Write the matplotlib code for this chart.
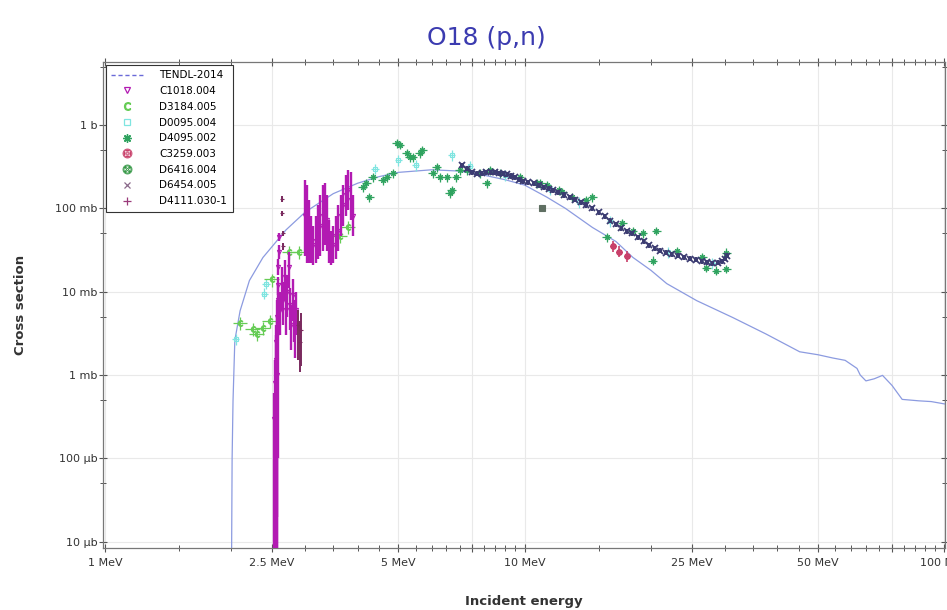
import numpy as np
import matplotlib
matplotlib.use("Agg")
import matplotlib.pyplot as plt
from matplotlib.lines import Line2D

# ---------------- data (energies in MeV, cross sections in barn) ----------------
tendl_E = [2.00, 2.01, 2.02, 2.04, 2.10, 2.21, 2.38, 2.54, 2.7, 3.0, 3.5, 4.0, 4.5, 5.0,
           6.0, 7.0, 8.0, 9.0, 10.0, 11.3, 12.5, 14.5, 16.5, 18.1, 20.0, 21.8, 25.7,
           31.3, 37.6, 45.2, 50.0, 54.2, 58.0, 61.9, 63.0, 65.0, 68.0, 71.2, 75.0,
           79.3, 86.9, 93.0, 100.0]
tendl_S = [1e-6, 1e-4, 4.9e-4, 2.6e-3, 5.9e-3, 0.0136, 0.0257, 0.038, 0.055, 0.09,
           0.15, 0.2, 0.24, 0.27, 0.29, 0.28, 0.25, 0.22, 0.19, 0.136, 0.1, 0.059,
           0.04, 0.0258, 0.018, 0.0125, 7.8e-3, 4.9e-3, 3.1e-3, 1.9e-3, 1.75e-3,
           1.6e-3, 1.5e-3, 1.2e-3, 1.0e-3, 8.5e-4, 9.0e-4, 9.9e-4, 7.5e-4, 5.1e-4,
           4.9e-4, 4.8e-4, 4.5e-4]

# C1018.004 : resonance region, value with lower / upper bar ends
c1018_E = [2.535, 2.54, 2.545, 2.55, 2.555, 2.56, 2.565, 2.57, 2.575, 2.58,
           2.585, 2.59, 2.595, 2.60,
           2.62, 2.64, 2.66, 2.68, 2.70, 2.72, 2.74, 2.76, 2.78, 2.80, 2.82, 2.84, 2.86,
           3.00, 3.03, 3.06, 3.10, 3.14, 3.18, 3.22, 3.26, 3.30, 3.34, 3.38, 3.42,
           3.46, 3.50, 3.55, 3.60, 3.65, 3.70, 3.75, 3.80, 3.85, 3.90]
c1018_S = [3e-4, 8e-4, 2e-4, 1.5e-3, 5e-4, 2.5e-3, 1e-3, 3e-3, 5e-3, 8e-3,
           0.012, 0.02, 0.03, 0.045,
           0.006, 0.012, 0.008, 0.015, 0.006, 0.010, 0.020, 0.007, 0.004, 0.009,
           0.005, 0.0035, 0.006,
           0.082, 0.062, 0.054, 0.041, 0.036, 0.041, 0.047, 0.062, 0.082, 0.088,
           0.072, 0.041, 0.033, 0.036, 0.047, 0.054, 0.082, 0.109, 0.143, 0.165,
           0.125, 0.082]
c1018_lo = [1e-6, 1e-6, 1e-6, 1e-6, 1e-6, 1e-6, 1e-6, 5e-6, 2e-5, 1e-4,
            0.009, 0.016, 0.025, 0.040,
            0.003, 0.006, 0.004, 0.008, 0.003, 0.005, 0.011, 0.0035, 0.002, 0.0045,
            0.0025, 0.0016, 0.003,
            0.027, 0.022, 0.022, 0.022, 0.021, 0.022, 0.025, 0.027, 0.031, 0.036,
            0.031, 0.022, 0.021, 0.022, 0.025, 0.031, 0.047, 0.062, 0.082, 0.095,
            0.072, 0.047]
c1018_hi = [6e-4, 1.5e-3, 4e-4, 3e-3, 1e-3, 4e-3, 2e-3, 5e-3, 8e-3, 0.012,
            0.015, 0.025, 0.036, 0.050,
            0.010, 0.020, 0.013, 0.024, 0.010, 0.016, 0.030, 0.011, 0.007, 0.014,
            0.008, 0.006, 0.010,
            0.217, 0.189, 0.125, 0.082, 0.062, 0.082, 0.109, 0.143, 0.189, 0.200,
            0.143, 0.072, 0.054, 0.062, 0.082, 0.109, 0.143, 0.189, 0.250, 0.287,
            0.270, 0.143]

d3184_E = [2.10, 2.25, 2.30, 2.38, 2.47, 2.50, 2.75, 2.90, 3.63, 3.80]
d3184_S = [4.2e-3, 3.6e-3, 3.1e-3, 3.7e-3, 4.5e-3, 0.014, 0.030, 0.030, 0.047, 0.060]

d0095_E = [2.05, 2.40, 2.42, 4.4, 5.0, 5.5, 6.7, 7.4, 9.0, 11.5, 13.5, 16.0, 22.0, 28.0]
d0095_S = [2.7e-3, 0.0095, 0.0125, 0.30, 0.38, 0.33, 0.435, 0.32, 0.25, 0.17, 0.12,
           0.07, 0.030, 0.022]

d4095_E = [4.11, 4.20, 4.27, 4.35, 4.59, 4.69, 4.85, 4.96, 5.04, 5.24, 5.33, 5.41,
           5.62, 5.71, 6.04, 6.17, 6.28, 6.52, 6.63, 6.70, 6.88, 7.00, 7.27, 7.81,
           8.12, 8.26, 8.72, 9.73, 10.7, 10.9, 11.3, 12.1, 12.3, 13.0, 14.0, 14.5,
           15.7, 17.1, 18.1, 19.1, 20.2, 20.6, 23.0, 26.5, 27.1, 28.6, 30.2, 30.2]
d4095_S = [0.179, 0.200, 0.136, 0.236, 0.217, 0.236, 0.264, 0.607, 0.580, 0.460,
           0.410, 0.410, 0.460, 0.500, 0.264, 0.312, 0.236, 0.236, 0.152, 0.165,
           0.236, 0.287, 0.287, 0.264, 0.200, 0.287, 0.264, 0.236, 0.200, 0.200,
           0.189, 0.165, 0.156, 0.136, 0.125, 0.136, 0.0448, 0.066, 0.054, 0.050,
           0.0236, 0.054, 0.031, 0.0258, 0.0195, 0.0179, 0.0189, 0.0295]

c3259_E = [16.2, 16.8, 17.5]
c3259_S = [0.035, 0.030, 0.027]
c3259_lo = [0.030, 0.026, 0.023]
c3259_hi = [0.040, 0.035, 0.031]

d6416_E = [11.0]
d6416_S = [0.100]

d6454_E = [7.1, 7.3, 7.5, 7.7, 7.9, 8.1, 8.3, 8.5, 8.7, 8.9, 9.1, 9.3, 9.5, 9.7, 9.9,
           10.2, 10.5, 10.8, 11.1, 11.4, 11.7, 12.0, 12.4, 12.8, 13.2, 13.6, 14.0,
           14.5, 15.0, 15.5, 16.0, 16.5, 17.0, 17.5, 18.0, 18.6, 19.2, 19.8, 20.4,
           21.0, 21.7, 22.4, 23.2, 24.0, 24.8, 25.6, 26.4, 27.2, 28.0, 28.8, 29.5,
           30.0, 30.3]
d6454_S = [0.33, 0.30, 0.27, 0.26, 0.265, 0.27, 0.27, 0.27, 0.265, 0.26, 0.255,
           0.245, 0.235, 0.22, 0.21, 0.205, 0.20, 0.19, 0.18, 0.172, 0.165, 0.155,
           0.145, 0.135, 0.127, 0.118, 0.11, 0.10, 0.09, 0.08, 0.071, 0.064, 0.058,
           0.053, 0.050, 0.045, 0.040, 0.036, 0.033, 0.031, 0.0295, 0.028, 0.027,
           0.026, 0.025, 0.0242, 0.0232, 0.0225, 0.022, 0.0222, 0.0232, 0.025, 0.027]

d4111_E = [2.64, 2.64, 2.65, 2.66, 2.88, 2.91, 2.93]
d4111_S = [0.13, 0.087, 0.05, 0.035, 0.004, 0.0025, 0.0035]
d4111_lo = [0.12, 0.080, 0.046, 0.032, 0.0015, 0.0011, 0.0013]
d4111_hi = [0.14, 0.094, 0.054, 0.038, 0.006, 0.0045, 0.0055]

x_major = [1, 2.5, 5, 7.5, 10, 25, 50, 75, 100]
x_major_labels = ["1 MeV", "2.5 MeV", "5 MeV", "", "10 MeV", "25 MeV", "50 MeV", "", "100 MeV"]
x_minor = [1.5, 2, 3, 3.5, 4, 4.5, 5.5, 6, 6.5, 7, 8, 8.5, 9, 9.5,
           15, 20, 30, 35, 40, 45, 55, 60, 65, 70, 80, 85, 90, 95]
y_major = [1e-5, 1e-4, 1e-3, 1e-2, 1e-1, 1]
y_major_labels = ["10 \u00b5b", "100 \u00b5b", "1 mb", "10 mb", "100 mb", "1 b"]
y_minor = [5e-5, 5e-4, 5e-3, 5e-2, 5e-1, 5]

# ---------------- styling ----------------
col_tendl = "#8c9be0"
col_c1018 = "#b21ab2"
col_d3184 = "#66cc55"
col_d0095 = "#7fe5e0"
col_d4095 = "#2fa35f"
col_c3259 = "#c8406a"
col_d6416 = "#5f6f62"
col_d6454 = "#3c3c72"
col_d4111 = "#7a2a5e"

fig = plt.figure(figsize=(9.47, 6.10), dpi=100)
ax = fig.add_axes([103 / 947, 1 - 548 / 610, (945 - 103) / 947, (548 - 62) / 610])
ax.set_xscale("log")
ax.set_yscale("log")

ax.grid(True, which="major", color="#e9e9e9", lw=0.8, zorder=0)

ax.plot(tendl_E, tendl_S, color=col_tendl, lw=0.9, zorder=2)

def eb(E, S, color, marker, ms=3.5, yrel=0.12, xrel=0.0, lo=None, hi=None, z=3, lw=0.9,
       mfc="none", mew=0.8):
    E = np.asarray(E, float)
    S = np.asarray(S, float)
    if lo is not None:
        yerr = [S - np.asarray(lo), np.asarray(hi) - S]
    else:
        yerr = S * yrel
    xerr = E * xrel if xrel else None
    ax.errorbar(E, S, yerr=yerr, xerr=xerr, fmt="none", ecolor=color,
                elinewidth=lw, capsize=0, zorder=z)
    ax.plot(E, S, linestyle="none", marker=marker, ms=ms, mfc=mfc, mec=color,
            mew=mew, zorder=z + 0.1)

eb(d0095_E, d0095_S, col_d0095, "s", ms=3, yrel=0.15, xrel=0.02, z=3)
eb(d3184_E, d3184_S, col_d3184, r"$\mathrm{C}$", ms=4, yrel=0.18, xrel=0.04, z=3)
eb(d4095_E, d4095_S, col_d4095, (8, 2, 0), ms=4.5, yrel=0.12, xrel=0.025, z=4)
eb(c1018_E, c1018_S, col_c1018, "v", ms=3, lo=c1018_lo, hi=c1018_hi, z=5, lw=1.7)
eb(c3259_E, c3259_S, col_c3259, r"$\oplus$", ms=4, lo=c3259_lo, hi=c3259_hi, z=5, lw=1.2)
eb(d6416_E, d6416_S, col_d6416, "s", ms=5, yrel=0.06, z=5, mfc=col_d6416)
eb(d6454_E, d6454_S, col_d6454, "x", ms=4.5, yrel=0.07, xrel=0.01, z=6, lw=1.4, mew=1.3)
eb(d4111_E, d4111_S, col_d4111, "+", ms=3.5, lo=d4111_lo, hi=d4111_hi, z=6, lw=1.4)

ax.set_xticks(x_major)
ax.set_xticklabels(x_major_labels)
ax.set_xticks(x_minor, minor=True)
ax.set_xticklabels([], minor=True)
ax.set_yticks(y_major)
ax.set_yticklabels(y_major_labels)
ax.set_yticks(y_minor, minor=True)
ax.set_yticklabels([], minor=True)

# limits after ticks so that tick positions do not expand the view
ax.set_xlim(0.99, 100.3)
ax.set_ylim(8.4e-6, 5.7)

ax.tick_params(which="both", direction="inout", top=True, right=True, colors="#555555",
               labelcolor="#333333", labelsize=8)
ax.tick_params(which="major", length=6, width=0.8)
ax.tick_params(which="minor", length=4, width=0.7)
ax.tick_params(axis="x", pad=4)
ax.tick_params(axis="y", pad=1)

for sp in ax.spines.values():
    sp.set_color("#777777")
    sp.set_linewidth(0.9)

ax.set_xlabel("Incident energy", fontsize=9.5, fontweight="bold", color="#333333", labelpad=20)
ax.set_ylabel("Cross section", fontsize=9.5, fontweight="bold", color="#333333", labelpad=20)

fig.text(0.514, 0.938, "O18 (p,n)", ha="center", va="center", fontsize=18,
         color="#3b3bb0")

handles = [
    Line2D([], [], color="#6a6ad8", lw=1.0, ls=(0, (3, 2))),
    Line2D([], [], ls="none", marker="v", ms=4.5, mfc="none", mec=col_c1018, mew=0.9),
    Line2D([], [], ls="none", marker=r"$\mathrm{C}$", ms=5.5, mfc="none", mec=col_d3184, mew=0.9),
    Line2D([], [], ls="none", marker="s", ms=4.5, mfc="none", mec=col_d0095, mew=0.9),
    Line2D([], [], ls="none", marker=(8, 2, 0), ms=6, mfc="none", mec=col_d4095, mew=1.0),
    Line2D([], [], ls="none", marker=r"$\oplus$", ms=6.5, mfc="none", mec=col_c3259, mew=0.6),
    Line2D([], [], ls="none", marker=r"$\otimes$", ms=6.5, mfc="none", mec="#3a9a4a", mew=0.6),
    Line2D([], [], ls="none", marker="x", ms=5, mfc="none", mec="#8a6a8a", mew=0.9),
    Line2D([], [], ls="none", marker="+", ms=6, mfc="none", mec="#9a3a7a", mew=0.9),
]
labels = ["TENDL-2014", "C1018.004", "D3184.005", "D0095.004", "D4095.002",
          "C3259.003", "D6416.004", "D6454.005", "D4111.030-1"]
leg = ax.legend(handles, labels, loc="upper left", bbox_to_anchor=(0.0, 1.0),
                fontsize=7.5, frameon=True, fancybox=False, edgecolor="#333333",
                framealpha=1.0, labelspacing=0.55, handlelength=3.0, handletextpad=1.6,
                borderpad=0.55, borderaxespad=0.25)
leg.get_frame().set_linewidth(0.8)
leg.set_zorder(10)

fig.savefig("out.png", dpi=100)
